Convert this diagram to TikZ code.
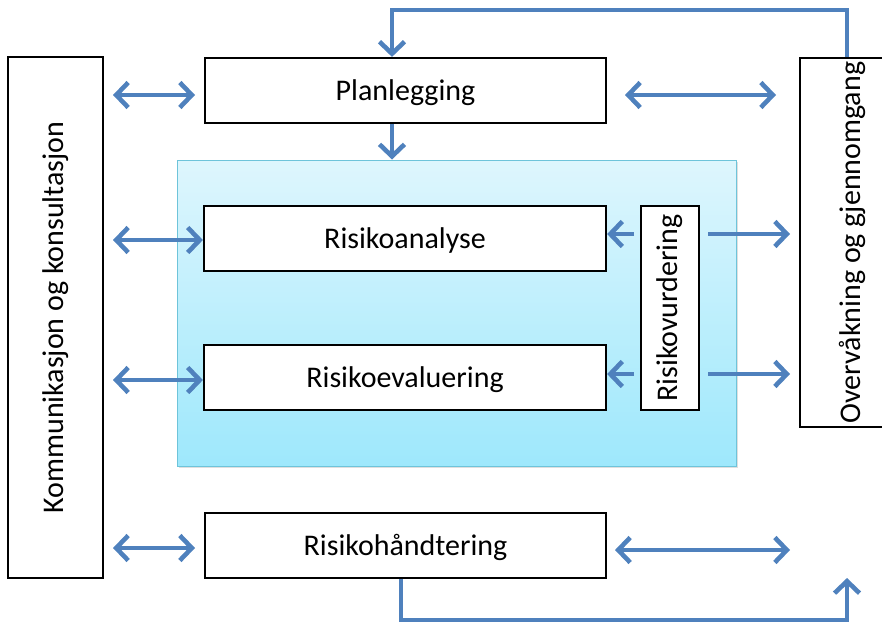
\documentclass[tikz,border=0pt]{standalone}
\usepackage{fontspec}
\setmainfont{Carlito}
\usetikzlibrary{arrows.meta,calc,shadows}
\definecolor{arrblue}{RGB}{79,129,189}
\definecolor{bluetop}{RGB}{222,246,253}
\definecolor{bluebot}{RGB}{158,232,252}
\definecolor{blueedge}{RGB}{110,196,218}
\tikzset{
  box/.style={draw=black,line width=2.2pt,fill=white,inner sep=0pt,
    font=\fontsize{30}{34}\selectfont},
  hbox/.style={box,text height=24pt,text depth=5pt},
  outerbox/.style={box,line width=1.8pt},
  tipb/.tip={Straight Barb[length=12pt,width=25pt,line width=4.6pt]},
  conn/.style={draw=arrblue,line width=4.6pt,-tipb},
  dconn/.style={draw=arrblue,line width=4.6pt,tipb-tipb}
}
\begin{document}
\begin{tikzpicture}[x=1pt,y=-1pt]
\useasboundingbox (0,0) rectangle (882,624);
% light-blue background panel
\node[draw=blueedge,line width=1pt,top color=bluetop,bottom color=bluebot,
  minimum width=559pt,minimum height=306pt,inner sep=0pt,
  drop shadow={shadow xshift=1.5pt,shadow yshift=-2pt,opacity=0.25}] (panel) at (456.5,313) {};
% boxes
\node[outerbox,minimum width=95pt,minimum height=521pt] (komm) at (55.5,317.5)
  {\rotatebox{90}{Kommunikasjon og konsultasjon}};
\node[outerbox,minimum width=104pt,minimum height=369pt] (overv) at (852,242.5)
  {\rotatebox{90}{Overvåkning og gjennomgang}};
\node[hbox,minimum width=401pt,minimum height=65pt] (plan) at (405.5,90.5) {Planlegging};
\node[hbox,minimum width=402pt,minimum height=65pt] (anal) at (405,238.5) {Risikoanalyse};
\node[hbox,minimum width=402pt,minimum height=65pt] (eval) at (405,377.5) {Risikoevaluering};
\node[box,minimum width=58pt,minimum height=204pt] (vurd) at (670,308)
  {\rotatebox{90}{Risikovurdering}};
\node[hbox,minimum width=401pt,minimum height=65pt] (handt) at (405.5,545.5) {Risikohåndtering};
% free ends
\coordinate (pl) at (113,95);   \coordinate (pr) at (195,95);
\coordinate (al) at (113,240);
\coordinate (el) at (113,380);
\coordinate (hl) at (113,548);  \coordinate (hr) at (195,548);
\coordinate (prl) at (625,95);  \coordinate (prr) at (776,95);
\coordinate (hrl) at (615,550); \coordinate (hrr) at (790,550);
\coordinate (topR) at (847,10); \coordinate (topL) at (392,10);
\coordinate (botL) at (401,620); \coordinate (botR) at (847,620);
\coordinate (vaL) at (634,234); \coordinate (veL) at (634,374);
\coordinate (vaR) at (708,234); \coordinate (veR) at (708,374);
\coordinate (oaR) at (790,234); \coordinate (oeR) at (790,374);
% left double arrows
\draw[dconn] (pl) -- (pr);
\draw[dconn] (al) -- (al -| anal.west);
\draw[dconn] (el) -- (el -| eval.west);
\draw[dconn] (hl) -- (hr);
% right double arrows
\draw[dconn] (prl) -- (prr);
\draw[dconn] (hrl) -- (hrr);
% Risikovurdering arrows
\draw[conn] (vaL) -- (vaL -| anal.east);
\draw[conn] (veL) -- (veL -| eval.east);
\draw[conn] (vaR) -- (oaR);
\draw[conn] (veR) -- (oeR);
% feedback loop top
\draw[conn] (overv.north -| topR) -- (topR) -- (topL) -- (topL |- plan.north);
% Planlegging to panel
\draw[conn] (plan.south -| topL) -- (topL |- panel.north);
% bottom loop
\draw[conn] (handt.south -| botL) -- (botL) -- (botR) -- (847,578);
\end{tikzpicture}
\end{document}
